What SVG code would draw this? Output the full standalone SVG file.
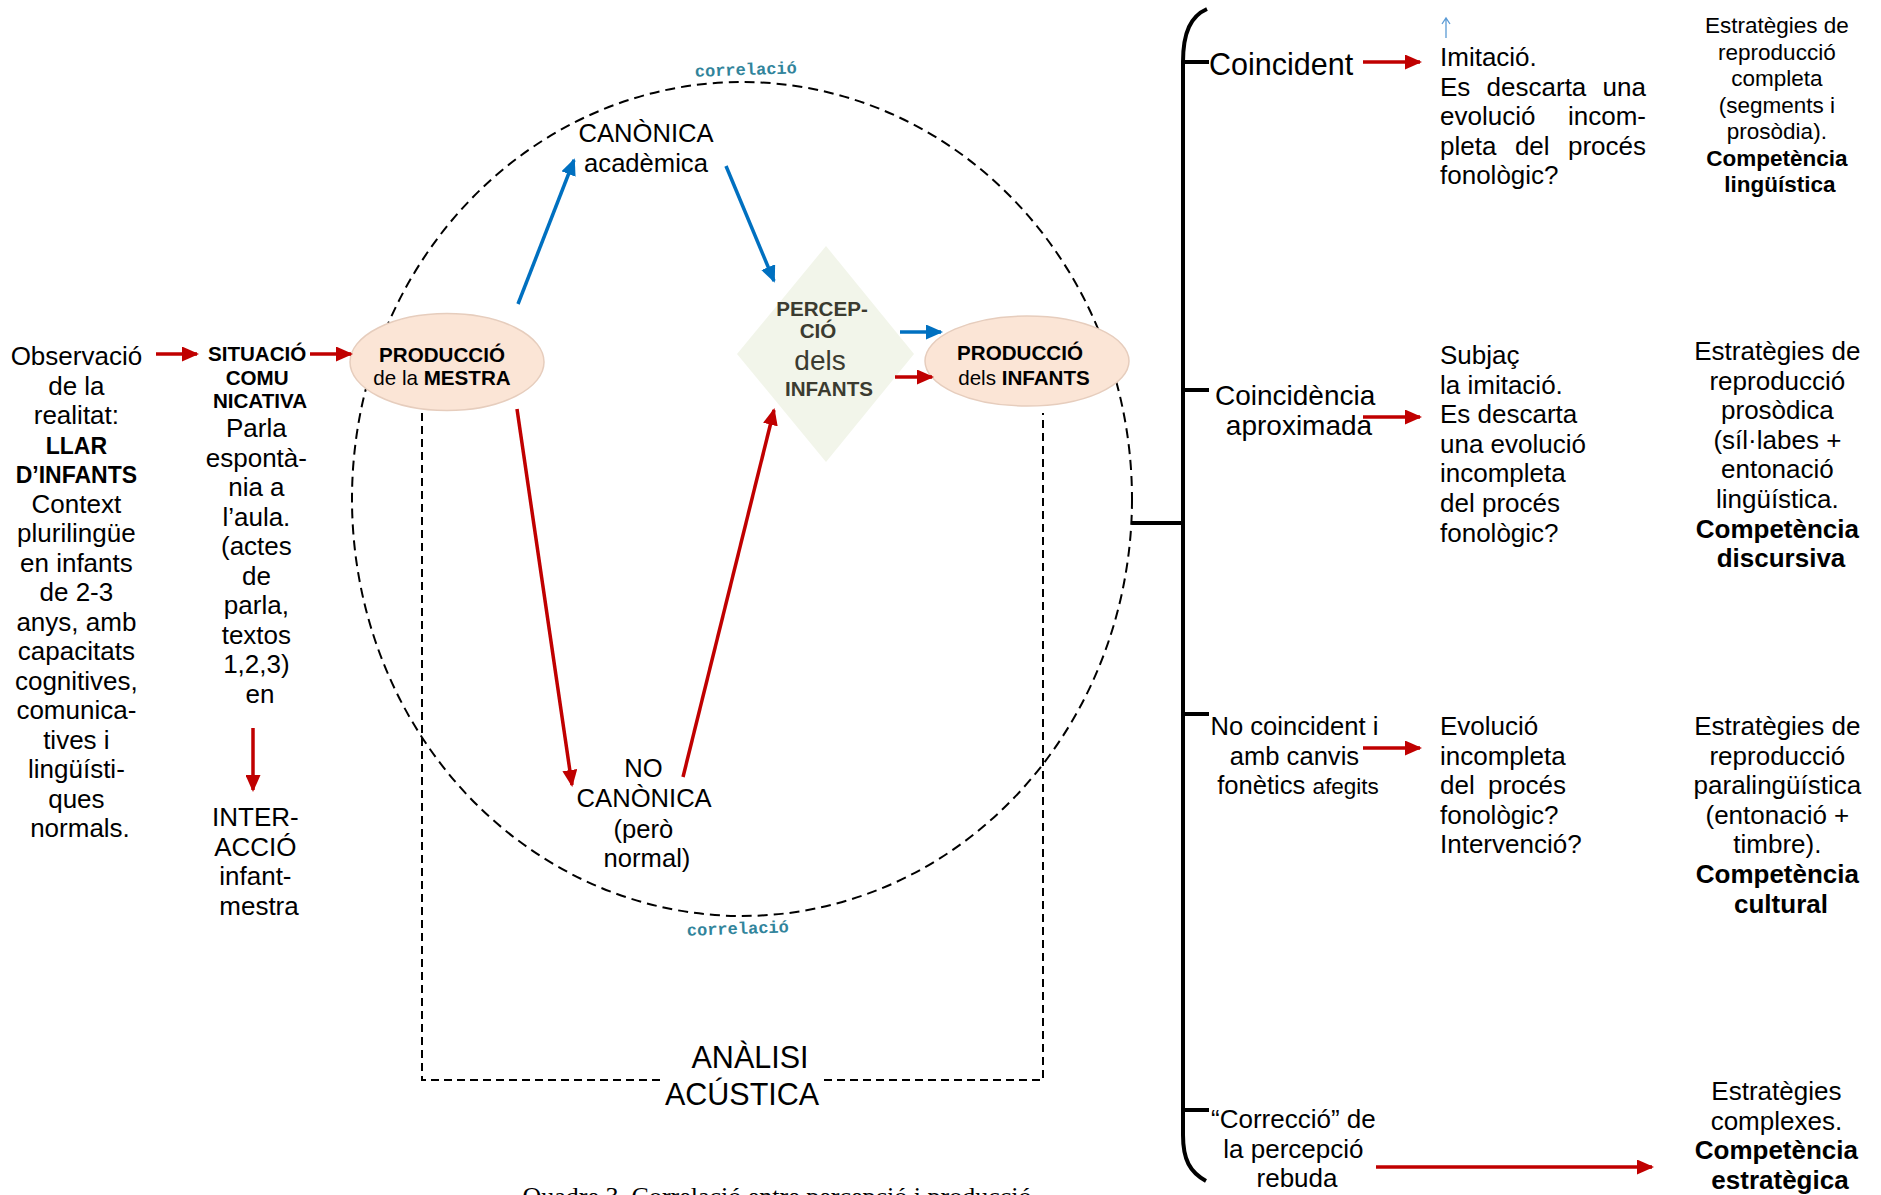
<svg xmlns="http://www.w3.org/2000/svg" width="1881" height="1195" viewBox="0 0 1881 1195">
<defs>
<marker id="ar" markerUnits="userSpaceOnUse" markerWidth="17" markerHeight="15" refX="15" refY="7.5" orient="auto"><path d="M0,0 L17,7.5 L0,15 z" fill="#c00000"/></marker>
<marker id="ab" markerUnits="userSpaceOnUse" markerWidth="17" markerHeight="15" refX="15" refY="7.5" orient="auto"><path d="M0,0 L17,7.5 L0,15 z" fill="#0070c0"/></marker>
<style>
text{font-family:"Liberation Sans",Arial,Helvetica,sans-serif;fill:#000}
.m{text-anchor:middle}
.b{font-weight:bold}
.f26{font-size:26px}
.f22{font-size:22.5px}
.f20{font-size:20.6px}
.red{stroke:#c00000;stroke-width:3.5;fill:none;marker-end:url(#ar)}
.blue{stroke:#0070c0;stroke-width:3.5;fill:none;marker-end:url(#ab)}
.dash{fill:none;stroke:#000;stroke-width:2;stroke-dasharray:10 6}
.dash2{fill:none;stroke:#000;stroke-width:2;stroke-dasharray:8 5}
.prod{fill:#fbe5d6;stroke:#e6cdbd;stroke-width:1.5}
.corr{font-family:"Liberation Mono","Courier New",monospace;font-weight:bold;font-size:17px;fill:#31849b;text-anchor:middle}
.perc{fill:#3b3b30}
.brk{fill:none;stroke:#000;stroke-width:4}
</style>
</defs>
<rect width="1881" height="1195" fill="#fff"/>

<g id="correlacio-cercle">
<ellipse class="dash" cx="742" cy="499" rx="390" ry="417"/>
<text class="corr" x="746" y="75" transform="rotate(-2 746 75)">correlació</text>
<text class="corr" x="738" y="934" transform="rotate(-2 738 934)">correlació</text>
</g>

<g id="analisi-acustica">
<path class="dash2" d="M422,413 V1080 H665 M824,1080 H1043 V413"/>
<text class="m" font-size="30.5" x="750" y="1068">ANÀLISI</text>
<text class="m" font-size="30.5" x="742" y="1105">ACÚSTICA</text>
</g>

<g id="observacio">
<text class="m f26">
<tspan x="80" y="365">Observació</tspan>
<tspan x="80" y="394.5">de la</tspan>
<tspan x="80" y="424">realitat:</tspan>
<tspan x="80" y="453.5" class="b" font-size="23">LLAR</tspan>
<tspan x="80" y="483" class="b" font-size="23">D’INFANTS</tspan>
<tspan x="80" y="512.5">Context</tspan>
<tspan x="80" y="542">plurilingüe</tspan>
<tspan x="80" y="571.5">en infants</tspan>
<tspan x="80" y="601">de 2-3</tspan>
<tspan x="80" y="630.5">anys, amb</tspan>
<tspan x="80" y="660">capacitats</tspan>
<tspan x="80" y="689.5">cognitives,</tspan>
<tspan x="80" y="719">comunica-</tspan>
<tspan x="80" y="748.5">tives i</tspan>
<tspan x="80" y="778">lingüísti-</tspan>
<tspan x="80" y="807.5">ques</tspan>
<tspan x="80" y="837">normals.</tspan>
</text>
</g>

<g id="situacio">
<text class="m b f20">
<tspan x="260" y="361">SITUACIÓ</tspan>
<tspan x="260" y="384.5">COMU</tspan>
<tspan x="260" y="408">NICATIVA</tspan>
</text>
<text class="m f26">
<tspan x="260" y="437">Parla</tspan>
<tspan x="260" y="466.5">espontà-</tspan>
<tspan x="260" y="496">nia a</tspan>
<tspan x="260" y="525.5">l’aula.</tspan>
<tspan x="260" y="555">(actes</tspan>
<tspan x="260" y="584.5">de</tspan>
<tspan x="260" y="614">parla,</tspan>
<tspan x="260" y="643.5">textos</tspan>
<tspan x="260" y="673">1,2,3)</tspan>
<tspan x="260" y="702.5">en</tspan>
</text>
</g>

<g id="interaccio">
<text class="m f26">
<tspan x="259" y="826">INTER-</tspan>
<tspan x="259" y="855.5">ACCIÓ</tspan>
<tspan x="259" y="885">infant-</tspan>
<tspan x="259" y="914.5">mestra</tspan>
</text>
</g>

<g id="produccio-mestra">
<ellipse class="prod" cx="447" cy="362" rx="97" ry="48.5"/>
<text class="m b f20" x="442" y="362">PRODUCCIÓ</text>
<text class="m f20" x="442" y="385">de la <tspan class="b">MESTRA</tspan></text>
</g>

<g id="canonica">
<text class="m" font-size="25.6" x="646" y="142">CANÒNICA</text>
<text class="m" font-size="25.6" x="646" y="172">acadèmica</text>
</g>

<g id="no-canonica">
<text class="m" font-size="25.6">
<tspan x="647" y="777">NO</tspan>
<tspan x="647" y="807">CANÒNICA</tspan>
<tspan x="647" y="838">(però</tspan>
<tspan x="647" y="867">normal)</tspan>
</text>
</g>

<g id="percepcio-infants">
<polygon points="826,246 914,354 826,462 737,354" fill="#f2f5ea"/>
<text class="m b f20 perc" x="822" y="316">PERCEP-</text>
<text class="m b f20 perc" x="818" y="338">CIÓ</text>
<text class="m perc" font-size="28" x="820" y="370">dels</text>
<text class="m b f20 perc" x="829" y="396">INFANTS</text>
</g>

<g id="produccio-infants">
<ellipse class="prod" cx="1027" cy="361" rx="102" ry="45"/>
<text class="m b f20" x="1020" y="360">PRODUCCIÓ</text>
<text class="m f20" x="1024" y="385">dels <tspan class="b">INFANTS</tspan></text>
</g>

<g id="claudator">
<path class="brk" d="M1207,9 C1191,16 1183,32 1183,62 L1183,1135 C1183,1160 1190,1172 1206,1181"/>
<path class="brk" d="M1132,523 H1183 M1183,62 H1209 M1183,390 H1209 M1183,714 H1209 M1183,1110 H1209"/>
</g>

<g id="coincident">
<text font-size="30.5" x="1209" y="75">Coincident</text>
</g>
<g id="imitacio">
<path d="M1446,38 V19 M1442,24 L1446,18 L1450,24" fill="none" stroke="#5b9bd5" stroke-width="1.3"/>
<text class="f26">
<tspan x="1440" y="66">Imitació.</tspan>
<tspan x="1440" y="95.5">Es</tspan><tspan x="1486.6" y="95.5">descarta</tspan><tspan x="1602.6" y="95.5">una</tspan>
<tspan x="1440" y="125">evolució</tspan><tspan x="1568" y="125">incom-</tspan>
<tspan x="1440" y="154.5">pleta</tspan><tspan x="1514.9" y="154.5">del</tspan><tspan x="1568" y="154.5">procés</tspan>
<tspan x="1440" y="184">fonològic?</tspan>
</text>
</g>
<g id="competencia-linguistica">
<text class="m f22">
<tspan x="1780" y="33">Estratègies de</tspan>
<tspan x="1780" y="59.5">reproducció</tspan>
<tspan x="1780" y="86">completa</tspan>
<tspan x="1780" y="112.5">(segments i</tspan>
<tspan x="1780" y="139">prosòdia).</tspan>
<tspan x="1780" y="165.5" class="b">Competència</tspan>
<tspan x="1780" y="192" class="b">lingüística</tspan>
</text>
</g>

<g id="coincidencia-aproximada">
<text class="m" font-size="28">
<tspan x="1299" y="405">Coincidència</tspan>
<tspan x="1299" y="435">aproximada</tspan>
</text>
</g>
<g id="subjac-imitacio">
<text class="f26">
<tspan x="1440" y="364">Subjaç</tspan>
<tspan x="1440" y="393.6">la imitació.</tspan>
<tspan x="1440" y="423.2">Es descarta</tspan>
<tspan x="1440" y="452.8">una evolució</tspan>
<tspan x="1440" y="482.4">incompleta</tspan>
<tspan x="1440" y="512">del procés</tspan>
<tspan x="1440" y="541.6">fonològic?</tspan>
</text>
</g>
<g id="competencia-discursiva">
<text class="m f26">
<tspan x="1781" y="360">Estratègies de</tspan>
<tspan x="1781" y="389.6">reproducció</tspan>
<tspan x="1781" y="419.2">prosòdica</tspan>
<tspan x="1781" y="448.8">(síl·labes +</tspan>
<tspan x="1781" y="478.4">entonació</tspan>
<tspan x="1781" y="508">lingüística.</tspan>
<tspan x="1781" y="537.6" class="b">Competència</tspan>
<tspan x="1781" y="567.2" class="b">discursiva</tspan>
</text>
</g>

<g id="no-coincident">
<text class="m" font-size="25.6">
<tspan x="1298" y="735">No coincident i</tspan>
<tspan x="1298" y="764.5">amb canvis</tspan>
<tspan x="1298" y="794">fonètics <tspan font-size="22.5">afegits</tspan></tspan>
</text>
</g>
<g id="evolucio-incompleta">
<text class="f26">
<tspan x="1440" y="735">Evolució</tspan>
<tspan x="1440" y="764.6">incompleta</tspan>
<tspan x="1440" y="794.2">del</tspan><tspan x="1488" y="794.2">procés</tspan>
<tspan x="1440" y="823.8">fonològic?</tspan>
<tspan x="1440" y="853.4">Intervenció?</tspan>
</text>
</g>
<g id="competencia-cultural">
<text class="m f26">
<tspan x="1781" y="735">Estratègies de</tspan>
<tspan x="1781" y="764.6">reproducció</tspan>
<tspan x="1781" y="794.2">paralingüística</tspan>
<tspan x="1781" y="823.8">(entonació +</tspan>
<tspan x="1781" y="853.4">timbre).</tspan>
<tspan x="1781" y="883" class="b">Competència</tspan>
<tspan x="1781" y="912.6" class="b">cultural</tspan>
</text>
</g>

<g id="correccio">
<text class="m f26">
<tspan x="1297" y="1128">“Correcció” de</tspan>
<tspan x="1297" y="1158">la percepció</tspan>
<tspan x="1297" y="1187">rebuda</tspan>
</text>
</g>
<g id="competencia-estrategica">
<text class="m f26">
<tspan x="1780" y="1100">Estratègies</tspan>
<tspan x="1780" y="1129.6">complexes.</tspan>
<tspan x="1780" y="1159.2" class="b">Competència</tspan>
<tspan x="1780" y="1188.8" class="b">estratègica</tspan>
</text>
</g>

<g id="connectors">
<line class="red" x1="156" y1="354" x2="197" y2="354"/>
<line class="red" x1="310" y1="354" x2="351" y2="354"/>
<line class="red" x1="253" y1="728" x2="253" y2="790"/>
<line class="blue" x1="518" y1="304" x2="574" y2="160"/>
<line class="blue" x1="726" y1="166" x2="774" y2="281"/>
<line class="blue" x1="900" y1="332" x2="941" y2="332"/>
<line class="red" x1="895" y1="377" x2="932" y2="377"/>
<line class="red" x1="517" y1="409" x2="572" y2="785"/>
<line class="red" x1="683" y1="777" x2="774" y2="410"/>
<line class="red" x1="1363" y1="62" x2="1420" y2="62"/>
<line class="red" x1="1363" y1="417" x2="1420" y2="417"/>
<line class="red" x1="1363" y1="748" x2="1420" y2="748"/>
<line class="red" x1="1376" y1="1167" x2="1652" y2="1167"/>
</g>

<g id="caption">
<text x="777" y="1205" text-anchor="middle" font-size="26" style="font-family:'Liberation Serif','Times New Roman',serif">Quadre 3. Correlació entre percepció i producció</text>
</g>
</svg>
